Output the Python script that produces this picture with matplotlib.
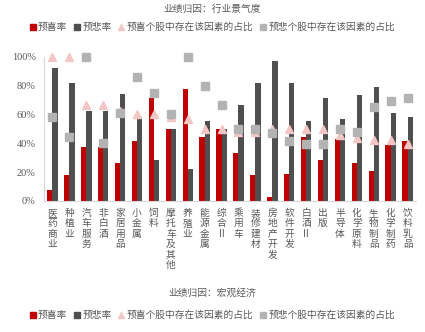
import numpy as np
import matplotlib.pyplot as plt
from matplotlib.lines import Line2D

plt.rcParams['font.family'] = ['Noto Sans CJK SC', 'DejaVu Sans']

# 行业名称
industries = ["医药商业", "种植业", "汽车服务", "非白酒", "家居用品", "小金属", "饲料",
              "摩托车及其他", "养殖业", "能源金属", "综合II", "乘用车", "装修建材",
              "房地产开发", "软件开发", "白酒II", "出版", "半导体", "化学原料",
              "生物制品", "化学制药", "饮料乳品"]

# 预喜率 / 预悲率
up_rate = [7.7, 18, 37.5, 37.5, 26, 41.5, 71.4, 50, 77.8, 44.4, 50, 33.3, 18,
           2.8, 18.4, 44.4, 28.6, 43, 26.3, 21, 38.8, 41.5]
down_rate = [92.3, 81.8, 62.5, 62.5, 74, 58.3, 28.6, 50, 22.2, 55.6, 50, 66.7, 81.8,
             97, 81.6, 55.6, 71.4, 56.8, 73.5, 78.8, 61.2, 58.3]

# 个股中存在该因素的占比
up_share = [100, 100, 66.7, 66.7, 62.5, 60, 60, 58, 57, 50, 50, 48, 48,
            50, 50, 50, 50, 46, 44, 42.6, 42.1, 39.4]
down_share = [58.3, 44.4, 100, 40, 61.3, 85.7, 75, 60, 100, 80, 66.7, 50, 50,
              47.4, 41.7, 39.4, 39.4, 50, 47.8, 65.4, 69, 71.4]

c_red = "#C00000"
c_dark = "#4F4F4F"
c_pink = "#F2C6C4"
c_grey = "#B3B3B3"
c_text = "#595959"

fig = plt.figure(figsize=(4.25, 3.32), dpi=100)
ax = fig.add_axes([0.1035, 0.3946, 0.8755, 0.4344])

x = np.arange(len(industries))
w = 0.31
ax.bar(x - w / 2, np.array(up_rate) / 100, w, color=c_red, zorder=2)
ax.bar(x + w / 2, np.array(down_rate) / 100, w, color=c_dark, zorder=2)
ax.plot(x, np.array(up_share) / 100, ls="none", marker="^", ms=5.5, color=c_pink,
        zorder=3, clip_on=False)
ax.plot(x, np.array(down_share) / 100, ls="none", marker="s", ms=5.5, color=c_grey,
        zorder=4, clip_on=False)

ax.set_xlim(-0.5, len(industries) - 0.5)
ax.set_ylim(0, 1)
ax.set_yticks(np.arange(0, 1.01, 0.2))
ax.set_yticklabels(["%d%%" % v for v in range(0, 101, 20)],
                   family="Liberation Serif", fontsize=7.5, color=c_text)
ax.tick_params(axis="y", length=0, pad=6)
ax.set_xticks(x)
ax.set_xticklabels(["\n".join(s) if "II" not in s else "\n".join(s[:-2]) + "\nII"
                    for s in industries],
                   fontsize=7, color=c_text, linespacing=1.05, va="top")
ax.tick_params(axis="x", length=0, pad=5)
for s in ["top", "right"]:
    ax.spines[s].set_visible(False)
for s in ["left", "bottom"]:
    ax.spines[s].set_color("#D9D9D9")
    ax.spines[s].set_linewidth(0.8)

handles = [
    Line2D([], [], ls="none", marker="s", ms=4.5, color=c_red),
    Line2D([], [], ls="none", marker="s", ms=4.5, color=c_dark),
    Line2D([], [], ls="none", marker="^", ms=5, color=c_pink),
    Line2D([], [], ls="none", marker="s", ms=4.5, color=c_grey),
]
labels = ["预喜率", "预悲率", "预喜个股中存在该因素的占比", "预悲个股中存在该因素的占比"]

fig.text(0.5, 1 - 9 / 332, "业绩归因：行业景气度", ha="center", va="center",
         fontsize=7, color=c_text)
fig.legend(handles, labels, loc="center", bbox_to_anchor=(0.5, 1 - 27 / 332), ncol=4,
           frameon=False, fontsize=7, handlelength=0.6, handletextpad=0.25,
           columnspacing=0.7, labelcolor=c_text)

fig.text(0.5, 1 - 293 / 332, "业绩归因：宏观经济", ha="center", va="center",
         fontsize=7, color=c_text)
fig.legend(handles, labels, loc="center", bbox_to_anchor=(0.5, 1 - 315 / 332), ncol=4,
           frameon=False, fontsize=7, handlelength=0.6, handletextpad=0.25,
           columnspacing=0.7, labelcolor=c_text)

fig.savefig("out.png", dpi=100)
